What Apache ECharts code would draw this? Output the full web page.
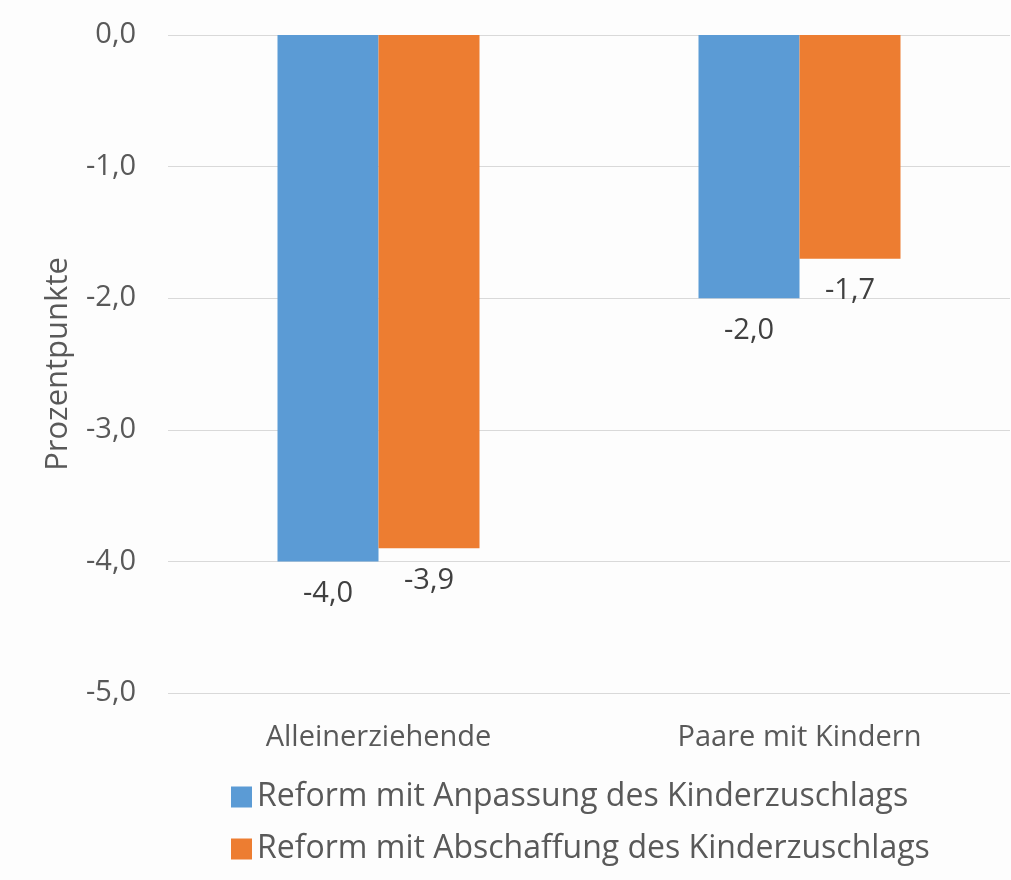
<!DOCTYPE html>
<html>
<head>
<meta charset="utf-8">
<script src="https://cdn.jsdelivr.net/npm/echarts@6/dist/echarts.min.js"></script>
<style>
  html, body { margin: 0; padding: 0; background: #fdfdfd; }
  #chart { width: 1011px; height: 880px; }
</style>
</head>
<body>
<div id="chart"></div>
<script>
var categories = ['Alleinerziehende', 'Paare mit Kindern'];
var seriesNames = ['Reform mit Anpassung des Kinderzuschlags', 'Reform mit Abschaffung des Kinderzuschlags'];
var anpassung = [-4.0, -2.0];
var abschaffung = [-3.9, -1.7];
var colors = ['#5b9bd5', '#ed7d31'];

var textColor = '#595959';
var fontName = 'Open Sans';

function fmt(v) {
    return v.toFixed(1).replace('.', ',');
}

var chart = echarts.init(document.getElementById('chart'));

function barSeries(name, data, color) {
    return {
        name: name,
        type: 'bar',
        data: data,
        barWidth: 101,
        barGap: '0%',
        itemStyle: { color: color },
        label: {
            show: true,
            position: 'bottom',
            distance: 18,
            color: '#404040',
            fontFamily: fontName,
            fontSize: 29,
            formatter: function (p) { return fmt(p.value); }
        }
    };
}

chart.setOption({
    backgroundColor: '#fdfdfd',
    animation: false,
    grid: { left: 168, right: 1, top: 35, bottom: 187 },
    legend: {
        orient: 'vertical',
        left: 226,
        top: 776,
        itemWidth: 21,
        itemHeight: 21,
        itemGap: 20,
        icon: 'rect',
        textStyle: { color: textColor, fontFamily: fontName, fontSize: 32 },
        data: seriesNames
    },
    xAxis: {
        type: 'category',
        data: categories,
        axisLine: { show: false, onZero: false },
        axisTick: { show: false },
        axisLabel: { color: textColor, fontFamily: fontName, fontSize: 29, margin: 30 }
    },
    yAxis: {
        type: 'value',
        min: -5,
        max: 0,
        interval: 1,
        name: 'Prozentpunkte',
        nameLocation: 'middle',
        nameGap: 94,
        nameTextStyle: { color: textColor, fontFamily: fontName, fontSize: 31 },
        axisLine: { show: false },
        axisTick: { show: false },
        splitLine: { lineStyle: { color: '#d9d9d9', width: 1 } },
        axisLabel: {
            color: textColor,
            fontFamily: fontName,
            fontSize: 29,
            margin: 32,
            formatter: function (v) { return fmt(v); }
        }
    },
    series: [
        barSeries(seriesNames[0], anpassung, colors[0]),
        barSeries(seriesNames[1], abschaffung, colors[1])
    ]
});
</script>
</body>
</html>
